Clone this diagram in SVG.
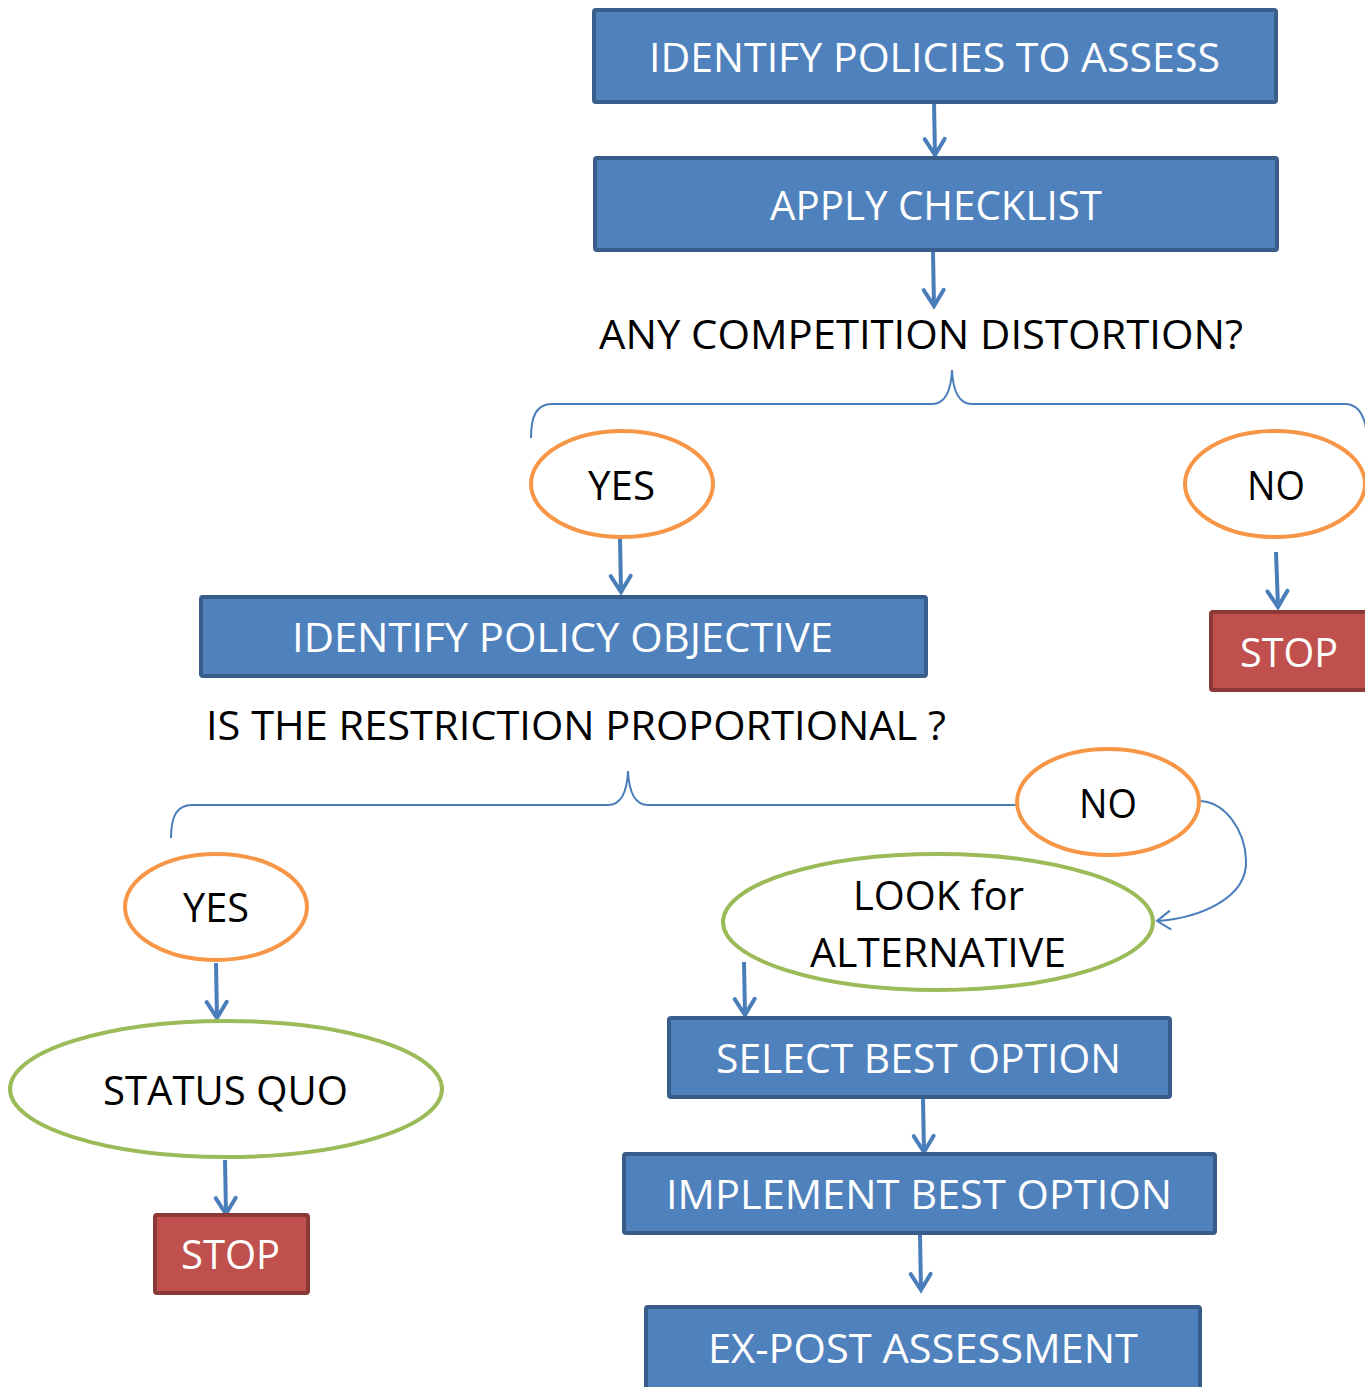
<svg xmlns="http://www.w3.org/2000/svg" width="1365" height="1387" viewBox="0 0 1365 1387">
<defs>
<marker id="ah" markerUnits="userSpaceOnUse" markerWidth="30" markerHeight="30" refX="0" refY="0" viewBox="-15 -15 30 30" orient="auto" overflow="visible">
<path d="M-16,-10 L0,0 L-16,10" fill="none" stroke="#4A7EBB" stroke-width="4" stroke-linecap="round" stroke-linejoin="miter"/>
</marker>
<marker id="ah2" markerUnits="userSpaceOnUse" markerWidth="30" markerHeight="30" refX="0" refY="0" viewBox="-15 -15 30 30" orient="auto" overflow="visible">
<path d="M-13,-9 L0,0 L-13,9" fill="none" stroke="#4A7EBB" stroke-width="2" stroke-linecap="round"/>
</marker>
</defs>
<style>
.box{fill:#4F81BD;stroke:#385D8A;stroke-width:4}
.stop{fill:#C0504D;stroke:#8C3836;stroke-width:4}
.yn{fill:#fff;stroke:#F79646;stroke-width:4}
.gr{fill:#fff;stroke:#9BBB59;stroke-width:4}
.wt{fill:#fff;font-family:"Open Sans","Liberation Sans",sans-serif;font-size:41px}
.bt{fill:#000;font-family:"Open Sans","Liberation Sans",sans-serif;font-size:41px}
.ar{fill:none;stroke:#4A7EBB;stroke-width:4;marker-end:url(#ah)}
.br{fill:none;stroke:#4A7EBB;stroke-width:2}
</style>
<rect width="1365" height="1387" fill="#fff"/>
<g id="connectors">
<line class="ar" x1="934" y1="102" x2="935" y2="155"/>
<line class="ar" x1="933" y1="252" x2="934" y2="306"/>
<path class="br" d="M531,438 C531,415 537,404 552,404 L932,404 C945,404 951,392 952,370 C953,392 959,404 972,404 L1345,404 C1356,404 1363,412 1366,428"/>
<line class="ar" x1="620" y1="538" x2="621" y2="592"/>
<line class="ar" x1="1276" y1="552" x2="1278" y2="607"/>
<path class="br" d="M171,838 C171,816 177,805 192,805 L608,805 C621,805 627,793 628,771 C629,793 635,805 648,805 L1030,805"/>
<path class="br" d="M1200,801 C1225,802 1245,830 1246,860 C1248,898 1200,918 1157,921" marker-end="url(#ah2)"/>
<line class="ar" x1="744" y1="962" x2="745" y2="1015"/>
<line class="ar" x1="216" y1="963" x2="217" y2="1018"/>
<line class="ar" x1="225" y1="1160" x2="226" y2="1214"/>
<line class="ar" x1="923" y1="1099" x2="924" y2="1152"/>
<line class="ar" x1="920" y1="1235" x2="921" y2="1290"/>
</g>
<g id="n1"><rect class="box" x="594" y="10" width="682" height="92" rx="2"/><text class="wt" x="649" y="72" textLength="571" lengthAdjust="spacingAndGlyphs">IDENTIFY POLICIES TO ASSESS</text></g>
<g id="n2"><rect class="box" x="595" y="158" width="682" height="92" rx="2"/><text class="wt" x="770" y="220" textLength="332" lengthAdjust="spacingAndGlyphs">APPLY CHECKLIST</text></g>
<g id="q1"><text class="bt" x="599" y="349" textLength="644" lengthAdjust="spacingAndGlyphs">ANY COMPETITION DISTORTION?</text></g>
<g id="yes1"><ellipse class="yn" cx="622" cy="484" rx="91" ry="53"/><text class="bt" x="588" y="500" textLength="67" lengthAdjust="spacingAndGlyphs">YES</text></g>
<g id="no1"><ellipse class="yn" cx="1275" cy="484" rx="90" ry="53"/><text class="bt" x="1247" y="500" textLength="58" lengthAdjust="spacingAndGlyphs">NO</text></g>
<g id="n3"><rect class="box" x="201" y="597" width="725" height="79" rx="2"/><text class="wt" x="292" y="652" textLength="541" lengthAdjust="spacingAndGlyphs">IDENTIFY POLICY OBJECTIVE</text></g>
<g id="stop1"><rect class="stop" x="1211" y="612" width="160" height="78" rx="2"/><text class="wt" x="1240" y="667" textLength="98" lengthAdjust="spacingAndGlyphs">STOP</text></g>
<g id="q2"><text class="bt" x="206" y="740" textLength="740" lengthAdjust="spacingAndGlyphs">IS THE RESTRICTION PROPORTIONAL ?</text></g>
<g id="no2"><ellipse class="yn" cx="1108" cy="802" rx="91" ry="53"/><text class="bt" x="1079" y="818" textLength="58" lengthAdjust="spacingAndGlyphs">NO</text></g>
<g id="look"><ellipse class="gr" cx="938" cy="922" rx="215" ry="68"/><text class="bt" x="853" y="910" textLength="171" lengthAdjust="spacingAndGlyphs">LOOK for</text><text class="bt" x="810" y="967" textLength="256" lengthAdjust="spacingAndGlyphs">ALTERNATIVE</text></g>
<g id="yes2"><ellipse class="yn" cx="216" cy="907" rx="91" ry="53"/><text class="bt" x="183" y="922" textLength="66" lengthAdjust="spacingAndGlyphs">YES</text></g>
<g id="sq"><ellipse class="gr" cx="226" cy="1089" rx="216" ry="68"/><text class="bt" x="103" y="1105" textLength="245" lengthAdjust="spacingAndGlyphs">STATUS QUO</text></g>
<g id="stop2"><rect class="stop" x="155" y="1215" width="153" height="78" rx="2"/><text class="wt" x="181" y="1269" textLength="99" lengthAdjust="spacingAndGlyphs">STOP</text></g>
<g id="sel"><rect class="box" x="669" y="1018" width="501" height="79" rx="2"/><text class="wt" x="716" y="1073" textLength="405" lengthAdjust="spacingAndGlyphs">SELECT BEST OPTION</text></g>
<g id="impl"><rect class="box" x="624" y="1154" width="591" height="79" rx="2"/><text class="wt" x="666" y="1209" textLength="506" lengthAdjust="spacingAndGlyphs">IMPLEMENT BEST OPTION</text></g>
<g id="expost"><rect class="box" x="646" y="1307" width="554" height="82" rx="2"/><text class="wt" x="708" y="1363" textLength="430" lengthAdjust="spacingAndGlyphs">EX-POST ASSESSMENT</text></g>
</svg>
